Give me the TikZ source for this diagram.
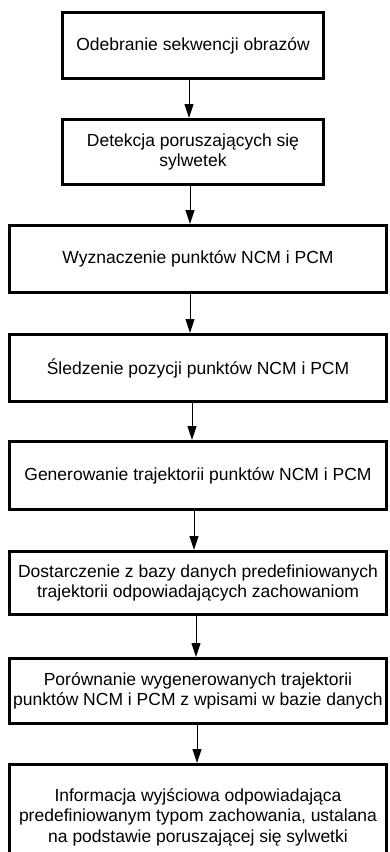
\documentclass[tikz,border=0pt]{standalone}
\usepackage{fontspec}
\setmainfont{Liberation Sans}
\usetikzlibrary{arrows.meta}
\tikzset{
  stepbox/.style={draw=black, line width=3pt, fill=white, inner sep=0pt, align=center,
    font=\fontsize{17.5}{20.5}\selectfont, text=black},
  narrowbox/.style={stepbox, minimum width=261pt},
  widebox/.style={stepbox, minimum width=377pt},
  arr/.style={draw=black, line width=1pt, -{Triangle[length=14pt,width=9pt]}}
}
\begin{document}
\begin{tikzpicture}[x=1pt,y=-1pt]
\useasboundingbox (0,0) rectangle (389,852);
\clip (0,0) rectangle (389,852);
\fill[white] (0,0) rectangle (389,852);
\node[narrowbox, minimum height=66pt] (b1) at (193,45.5) {Odebranie sekwencji obrazów};
\node[narrowbox, minimum height=65pt] (b2) at (193,152) {Detekcja poruszających się\\sylwetek};
\node[widebox, minimum height=67pt] (b3) at (198,259) {Wyznaczenie punktów NCM i PCM};
\node[widebox, minimum height=67pt] (b4) at (198,368) {Śledzenie pozycji punktów NCM i PCM};
\node[widebox, minimum height=68pt] (b5) at (198,475.5) {Generowanie trajektorii punktów NCM i PCM};
\node[widebox, minimum height=63pt] (b6) at (198,583) {Dostarczenie z bazy danych predefiniowanych\\trajektorii odpowiadających zachowaniom};
\node[widebox, minimum height=65pt] (b7) at (198,691) {Porównanie wygenerowanych trajektorii\\punktów NCM i PCM z wpisami w bazie danych};
\node[widebox, minimum height=105pt] (b8) at (198,817) {Informacja wyjściowa odpowiadająca\\predefiniowanym typom zachowania, ustalana\\na podstawie poruszającej się sylwetki};
\coordinate (x12) at (189,0);
\coordinate (x23) at (190,0);
\coordinate (x34) at (190,0);
\coordinate (x45) at (192,0);
\coordinate (x56) at (194,0);
\coordinate (x67) at (196,0);
\coordinate (x78) at (197,0);
\draw[arr] (b1.south -| x12) -- (b2.north -| x12);
\draw[arr] (b2.south -| x23) -- (b3.north -| x23);
\draw[arr] (b3.south -| x34) -- (b4.north -| x34);
\draw[arr] (b4.south -| x45) -- (b5.north -| x45);
\draw[arr] (b5.south -| x56) -- (b6.north -| x56);
\draw[arr] (b6.south -| x67) -- (b7.north -| x67);
\draw[arr] (b7.south -| x78) -- (b8.north -| x78);
\end{tikzpicture}
\end{document}
